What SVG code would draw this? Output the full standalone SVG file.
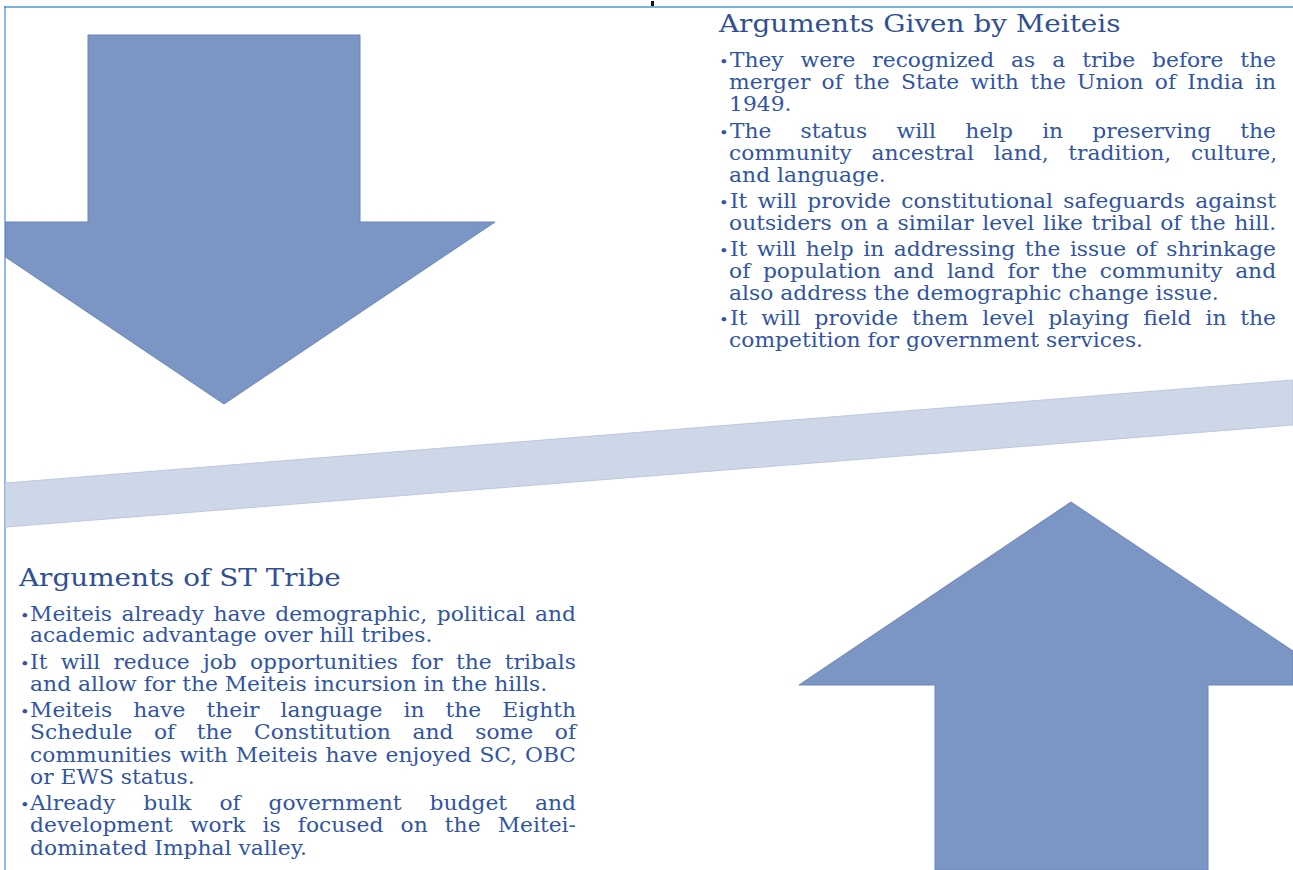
<svg xmlns="http://www.w3.org/2000/svg" width="1293" height="870" viewBox="0 0 1293 870">
  <style>
    .arrow { fill: #7b95c4; stroke: #6a85ba; stroke-width: 1; }
    .band { fill: #cdd7e8; stroke: #bcc8df; stroke-width: 1; }
    .title { font-family: "DejaVu Serif", "Liberation Serif", serif; font-size: 24px; fill: #2f5092; }
    .body { font-family: "DejaVu Serif", "Liberation Serif", serif; font-size: 20px; fill: #3155a0; }
    .dot { font-family: "DejaVu Serif", "Liberation Serif", serif; font-size: 15px; fill: #3155a0; }
  </style>

  <rect width="1293" height="870" fill="#ffffff"/>

  <!-- page frame -->
  <g id="frame">
    <line x1="4" y1="7" x2="1293" y2="7" stroke="#7ab2de" stroke-width="2"/>
    <line x1="5" y1="6" x2="5" y2="870" stroke="#4a88cf" stroke-width="1.2"/>
    <rect x="651" y="1" width="3" height="5" fill="#111111"/>
  </g>

  <!-- block arrows and the sloped divider band -->
  <g id="connectors">
    <polygon id="arrow-down" class="arrow" points="88,35 360,35 360,222 495,222 224,404 5.5,257 5.5,222 88,222"/>
    <polygon id="arrow-up" class="arrow" points="1071,502 1293,651 1293,685 1208,685 1208,870 935,870 935,685 799,685"/>
    <polygon id="divider" class="band" points="5.5,483 1293,380 1293,425 5.5,527"/>
  </g>

  <!-- Arguments given by Meiteis; body widened horizontally about x=719, justified lines use word-spacing -->
  <g id="meiteis-args">
    <text class="title" x="719" y="32" transform="matrix(1.16 0 0 1 -115.04 0)"><tspan>Arguments</tspan> <tspan>Given</tspan> <tspan>by</tspan> <tspan>Meiteis</tspan></text>
    <g transform="matrix(1.09 0 0 1 -64.71 0)">
      <text class="dot" x="719" y="67">•</text>
      <text class="body" x="729" y="67" style="word-spacing:9.2px" textLength="501" lengthAdjust="spacing"><tspan>They</tspan> <tspan>were</tspan> <tspan>recognized</tspan> <tspan>as</tspan> <tspan>a</tspan> <tspan>tribe</tspan> <tspan>before</tspan> <tspan>the</tspan></text>
      <text class="body" x="728.3" y="89" style="word-spacing:4px" textLength="501.8" lengthAdjust="spacing"><tspan>merger</tspan> <tspan>of</tspan> <tspan>the</tspan> <tspan>State</tspan> <tspan>with</tspan> <tspan>the</tspan> <tspan>Union</tspan> <tspan>of</tspan> <tspan>India</tspan> <tspan>in</tspan></text>
      <text class="body" x="728.3" y="111">1949.</text>

      <text class="dot" x="719" y="138">•</text>
      <text class="body" x="729" y="138" style="word-spacing:20.5px" textLength="501" lengthAdjust="spacing"><tspan>The</tspan> <tspan>status</tspan> <tspan>will</tspan> <tspan>help</tspan> <tspan>in</tspan> <tspan>preserving</tspan> <tspan>the</tspan></text>
      <text class="body" x="728.3" y="160" style="word-spacing:11.7px" textLength="502.8" lengthAdjust="spacing"><tspan>community</tspan> <tspan>ancestral</tspan> <tspan>land,</tspan> <tspan>tradition,</tspan> <tspan>culture,</tspan></text>
      <text class="body" x="728.3" y="182"><tspan>and</tspan> <tspan>language.</tspan></text>

      <text class="dot" x="719" y="208">•</text>
      <text class="body" x="729" y="208" style="word-spacing:3.1px" textLength="501" lengthAdjust="spacing"><tspan>It</tspan> <tspan>will</tspan> <tspan>provide</tspan> <tspan>constitutional</tspan> <tspan>safeguards</tspan> <tspan>against</tspan></text>
      <text class="body" x="728.3" y="230" style="word-spacing:1.5px" textLength="501.8" lengthAdjust="spacing"><tspan>outsiders</tspan> <tspan>on</tspan> <tspan>a</tspan> <tspan>similar</tspan> <tspan>level</tspan> <tspan>like</tspan> <tspan>tribal</tspan> <tspan>of</tspan> <tspan>the</tspan> <tspan>hill.</tspan></text>

      <text class="dot" x="719" y="256">•</text>
      <text class="body" x="729" y="256" style="word-spacing:2.4px" textLength="501" lengthAdjust="spacing"><tspan>It</tspan> <tspan>will</tspan> <tspan>help</tspan> <tspan>in</tspan> <tspan>addressing</tspan> <tspan>the</tspan> <tspan>issue</tspan> <tspan>of</tspan> <tspan>shrinkage</tspan></text>
      <text class="body" x="728.3" y="278" style="word-spacing:5.2px" textLength="501.8" lengthAdjust="spacing"><tspan>of</tspan> <tspan>population</tspan> <tspan>and</tspan> <tspan>land</tspan> <tspan>for</tspan> <tspan>the</tspan> <tspan>community</tspan> <tspan>and</tspan></text>
      <text class="body" x="728.3" y="300"><tspan>also</tspan> <tspan>address</tspan> <tspan>the</tspan> <tspan>demographic</tspan> <tspan>change</tspan> <tspan>issue.</tspan></text>

      <text class="dot" x="719" y="325">•</text>
      <text class="body" x="729" y="325" style="word-spacing:6.4px" textLength="501" lengthAdjust="spacing"><tspan>It</tspan> <tspan>will</tspan> <tspan>provide</tspan> <tspan>them</tspan> <tspan>level</tspan> <tspan>playing</tspan> <tspan>field</tspan> <tspan>in</tspan> <tspan>the</tspan></text>
      <text class="body" x="728.3" y="347"><tspan>competition</tspan> <tspan>for</tspan> <tspan>government</tspan> <tspan>services.</tspan></text>
    </g>
  </g>

  <!-- Arguments of ST tribe; body widened horizontally about x=19 -->
  <g id="st-tribe-args">
    <text class="title" x="19" y="586" transform="matrix(1.16 0 0 1 -3.04 0)"><tspan>Arguments</tspan> <tspan>of</tspan> <tspan>ST</tspan> <tspan>Tribe</tspan></text>
    <g transform="matrix(1.09 0 0 1 -1.71 0)">
      <text class="dot" x="19.9" y="621">•</text>
      <text class="body" x="29.2" y="621" style="word-spacing:2.4px" textLength="500.8" lengthAdjust="spacing"><tspan>Meiteis</tspan> <tspan>already</tspan> <tspan>have</tspan> <tspan>demographic,</tspan> <tspan>political</tspan> <tspan>and</tspan></text>
      <text class="body" x="29.2" y="642"><tspan>academic</tspan> <tspan>advantage</tspan> <tspan>over</tspan> <tspan>hill</tspan> <tspan>tribes.</tspan></text>

      <text class="dot" x="19.9" y="669">•</text>
      <text class="body" x="29.2" y="669" style="word-spacing:5.8px" textLength="500.8" lengthAdjust="spacing"><tspan>It</tspan> <tspan>will</tspan> <tspan>reduce</tspan> <tspan>job</tspan> <tspan>opportunities</tspan> <tspan>for</tspan> <tspan>the</tspan> <tspan>tribals</tspan></text>
      <text class="body" x="29.2" y="691"><tspan>and</tspan> <tspan>allow</tspan> <tspan>for</tspan> <tspan>the</tspan> <tspan>Meiteis</tspan> <tspan>incursion</tspan> <tspan>in</tspan> <tspan>the</tspan> <tspan>hills.</tspan></text>

      <text class="dot" x="19.9" y="717">•</text>
      <text class="body" x="29.2" y="717" style="word-spacing:13px" textLength="500.8" lengthAdjust="spacing"><tspan>Meiteis</tspan> <tspan>have</tspan> <tspan>their</tspan> <tspan>language</tspan> <tspan>in</tspan> <tspan>the</tspan> <tspan>Eighth</tspan></text>
      <text class="body" x="29.2" y="739" style="word-spacing:13.4px" textLength="500.8" lengthAdjust="spacing"><tspan>Schedule</tspan> <tspan>of</tspan> <tspan>the</tspan> <tspan>Constitution</tspan> <tspan>and</tspan> <tspan>some</tspan> <tspan>of</tspan></text>
      <text class="body" x="29.2" y="762" style="word-spacing:0.9px" textLength="500.8" lengthAdjust="spacing"><tspan>communities</tspan> <tspan>with</tspan> <tspan>Meiteis</tspan> <tspan>have</tspan> <tspan>enjoyed</tspan> <tspan>SC,</tspan> <tspan>OBC</tspan></text>
      <text class="body" x="29.2" y="784"><tspan>or</tspan> <tspan>EWS</tspan> <tspan>status.</tspan></text>

      <text class="dot" x="19.9" y="810">•</text>
      <text class="body" x="29.2" y="810" style="word-spacing:19.3px" textLength="500.8" lengthAdjust="spacing"><tspan>Already</tspan> <tspan>bulk</tspan> <tspan>of</tspan> <tspan>government</tspan> <tspan>budget</tspan> <tspan>and</tspan></text>
      <text class="body" x="29.2" y="832" style="word-spacing:9.3px" textLength="500.8" lengthAdjust="spacing"><tspan>development</tspan> <tspan>work</tspan> <tspan>is</tspan> <tspan>focused</tspan> <tspan>on</tspan> <tspan>the</tspan> <tspan>Meitei-</tspan></text>
      <text class="body" x="29.2" y="855"><tspan>dominated</tspan> <tspan>Imphal</tspan> <tspan>valley.</tspan></text>
    </g>
  </g>
</svg>
